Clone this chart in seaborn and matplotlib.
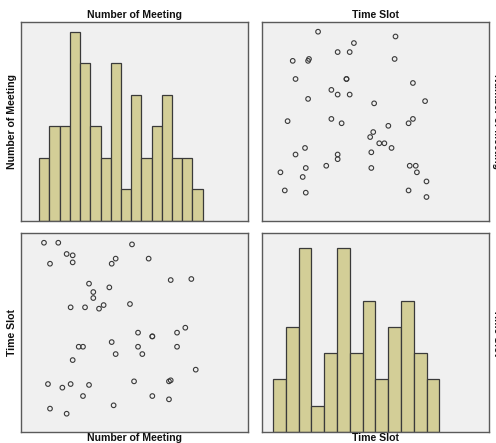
import matplotlib
matplotlib.use("Agg")
import matplotlib.pyplot as plt
import seaborn as sns
import numpy as np
import pandas as pd

# ---- data ----
var_names = ["Number of Meeting", "Time Slot"]

meeting = [5.46, 6.86, 14.08, 7.68, 8.27, 6.05, 8.27, 12.48, 12.09, 15.71,
           17.87, 19.89, 9.87, 11.86, 10.29, 10.29, 11.30, 10.85, 8.07, 9.48,
           13.88, 19.30, 14.67, 16.07, 16.07, 18.49, 8.86, 9.28, 12.09, 14.67,
           18.49, 12.48, 15.09, 8.27, 20.32, 5.85, 7.26, 8.07, 9.87, 14.28,
           17.70, 17.87, 9.28, 16.07, 17.70, 6.05, 12.28, 7.68]
time_slot = [12.99, 12.99, 12.88, 12.24, 12.15, 11.59, 11.68, 11.93, 11.59, 11.93,
             10.50, 10.57, 10.26, 10.01, 9.70, 9.30, 8.83, 8.59, 8.68, 8.68,
             8.90, 7.32, 6.99, 6.74, 6.74, 6.99, 6.05, 6.05, 6.36, 6.05,
             6.05, 5.56, 5.56, 5.16, 4.52, 3.56, 3.32, 3.56, 3.50, 3.74,
             3.74, 3.81, 2.76, 2.76, 2.54, 1.92, 2.14, 1.58]

meeting_bin_edges = list(range(5, 22))          # 16 bins
meeting_counts = [2, 3, 3, 6, 5, 3, 2, 5, 1, 4, 2, 3, 4, 2, 2, 1]
time_bin_edges = list(range(1, 15))             # 13 bins
time_counts = [2, 4, 7, 1, 3, 7, 3, 5, 2, 4, 5, 3, 2]

df = pd.DataFrame({"meeting": meeting, "time": time_slot})
hm = pd.DataFrame({"x": [(a + b) / 2 for a, b in zip(meeting_bin_edges[:-1], meeting_bin_edges[1:])],
                   "w": meeting_counts})
ht = pd.DataFrame({"x": [(a + b) / 2 for a, b in zip(time_bin_edges[:-1], time_bin_edges[1:])],
                   "w": time_counts})

# ---- style ----
sns.set_theme(style="white")
plt.rcParams["font.family"] = ["Liberation Sans", "DejaVu Sans"]

W, H = 496, 443
fig = plt.figure(figsize=(W / 100, H / 100), dpi=100)
fig.patch.set_facecolor("white")

def rect(x0, y0, x1, y1):
    return [x0 / W, 1 - y1 / H, (x1 - x0) / W, (y1 - y0) / H]

col_x = [(20.7, 247.7), (262.0, 488.7)]
row_y = [(21.7, 220.7), (233.3, 431.7)]

meeting_lim = (3.18, 25.41)
time_lim = (0.14, 17.85)

panel_bg = "#F0F0F0"
bar_color = "#D3CE97"
edge_dark = "#3A3A3A"

axes = {}
for r in range(2):
    for c in range(2):
        ax = fig.add_axes(rect(col_x[c][0], row_y[r][0], col_x[c][1], row_y[r][1]))
        ax.set_facecolor(panel_bg)
        for s in ax.spines.values():
            s.set_color("#5A5A5A")
            s.set_linewidth(1.0)
        axes[(r, c)] = ax

# top-left histogram: Number of Meeting
ax = axes[(0, 0)]
sns.histplot(data=hm, x="x", weights="w", bins=meeting_bin_edges, ax=ax,
             color=bar_color, alpha=1.0, edgecolor=edge_dark, linewidth=0.9)
ax.set_xlim(*meeting_lim)
ax.set_ylim(0, 6.32)

# top-right scatter: x = Time Slot, y = Number of Meeting
ax = axes[(0, 1)]
sns.scatterplot(data=df, x="time", y="meeting", ax=ax, marker="o", s=11,
                facecolor="none", edgecolor=edge_dark, linewidth=0.8)
ax.set_xlim(*time_lim)
ax.set_ylim(3.33, 21.22)

# bottom-left scatter: x = Number of Meeting, y = Time Slot
ax = axes[(1, 0)]
sns.scatterplot(data=df, x="meeting", y="time", ax=ax, marker="o", s=11,
                facecolor="none", edgecolor=edge_dark, linewidth=0.8)
ax.set_xlim(*meeting_lim)
ax.set_ylim(0.38, 13.62)

# bottom-right histogram: Time Slot
ax = axes[(1, 1)]
sns.histplot(data=ht, x="x", weights="w", bins=time_bin_edges, ax=ax,
             color=bar_color, alpha=1.0, edgecolor=edge_dark, linewidth=0.9)
ax.set_xlim(*time_lim)
ax.set_ylim(0, 7.58)

for ax in axes.values():
    ax.set_xticks([])
    ax.set_yticks([])
    ax.set_xlabel("")
    ax.set_ylabel("")

fs = 7.6
tk = dict(fontsize=fs, fontweight="bold", color="#111111", ha="center", va="center")
# column titles (top)
fig.text(sum(col_x[0]) / 2 / W, 1 - 15 / H, var_names[0], **tk)
fig.text(sum(col_x[1]) / 2 / W, 1 - 15 / H, var_names[1], **tk)
# column labels (bottom)
fig.text(sum(col_x[0]) / 2 / W, 1 - 438 / H, var_names[0], **tk)
fig.text(sum(col_x[1]) / 2 / W, 1 - 438 / H, var_names[1], **tk)
# row labels (left)
fig.text(12.5 / W, 1 - sum(row_y[0]) / 2 / H, var_names[0], rotation=90, **tk)
fig.text(12.5 / W, 1 - sum(row_y[1]) / 2 / H, var_names[1], rotation=90, **tk)
# row labels (right, partly cut off as in the reference)
fig.text(497.5 / W, 1 - sum(row_y[0]) / 2 / H, var_names[0], rotation=-90, **tk)
fig.text(497.5 / W, 1 - sum(row_y[1]) / 2 / H, var_names[1], rotation=-90, **tk)

fig.savefig("out.png", dpi=100)
